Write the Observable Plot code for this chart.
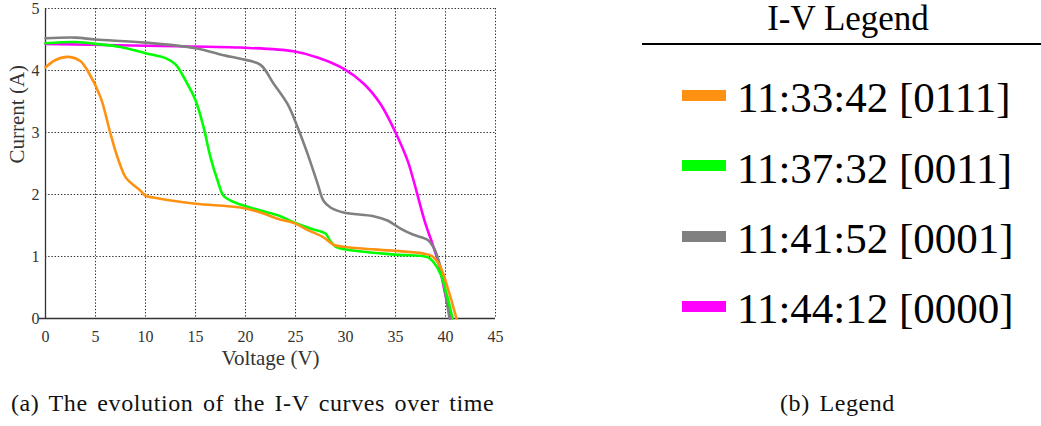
<!DOCTYPE html>
<html>
<head>
<meta charset="utf-8">
<script src="https://cdn.jsdelivr.net/npm/d3@7"></script>
<script src="https://cdn.jsdelivr.net/npm/@observablehq/plot@0.6"></script>
<style>
  html, body { margin: 0; padding: 0; background: #fff; }
  body { width: 1041px; height: 426px; position: relative; overflow: hidden; font-family: "Liberation Serif", serif; color: #000; }
  #chart { position: absolute; left: 0; top: 0; }
  .cap { position: absolute; font-family: "Liberation Serif", serif; font-size: 24px; white-space: nowrap; color: #111; letter-spacing: 0.6px; word-spacing: 3px; }
  #legtitle { position: absolute; left: 648px; width: 400px; top: 2px; text-align: center; font-family: "Liberation Serif", serif; font-size: 35px; line-height: 34px; }
  #legline { position: absolute; left: 642px; width: 399px; top: 43px; height: 2px; background: #000; }
  .row { position: absolute; left: 682px; height: 70px; display: flex; align-items: center; }
  .sw { width: 44px; height: 11px; margin-right: 11px; margin-bottom: 6px; }
  .lab { font-family: "Liberation Serif", serif; font-size: 43px; line-height: 1.15; }
</style>
</head>
<body>
<div id="chart"></div>
<div id="legend"></div>
<div class="cap" id="capa" style="left:11px; top:390px;">(a) The evolution of the I-V curves over time</div>
<div class="cap" id="capb" style="left:780px; top:390px;">(b) Legend</div>
<script>
// ---- data ----
const seriesNames = ["11:33:42 [0111]", "11:37:32 [0011]", "11:41:52 [0001]", "11:44:12 [0000]"];
const seriesColors = ["#ff9112", "#00ff00", "#808080", "#ff00ff"];
const xTicks = [0, 5, 10, 15, 20, 25, 30, 35, 40, 45];
const yTicks = [0, 1, 2, 3, 4, 5];

const voltsA = [0, 1, 2.3, 3.5, 4.2, 5.5, 6.5, 7.2, 8, 8.6, 9.5, 10, 10.8, 12.2, 15, 19.5, 21.5, 23.2, 25, 26.2, 27.8, 28.8, 30.2, 35, 37.7, 38.7, 39.5, 40.3, 41.1];
const ampsA  = [4.05, 4.17, 4.22, 4.15, 4.0, 3.57, 2.98, 2.6, 2.28, 2.18, 2.06, 1.98, 1.95, 1.91, 1.85, 1.79, 1.71, 1.61, 1.53, 1.43, 1.31, 1.19, 1.15, 1.09, 1.05, 1.0, 0.83, 0.45, 0.0];

const voltsB = [0, 3, 5, 7.5, 10, 12, 13, 14, 15, 15.8, 16.5, 17.2, 17.8, 18.8, 19.5, 21.5, 23.3, 25, 26.5, 28, 28.4, 29, 30.2, 35, 38.2, 38.8, 39.5, 40.2, 40.7];
const ampsB  = [4.44, 4.46, 4.43, 4.38, 4.28, 4.2, 4.1, 3.84, 3.52, 3.09, 2.6, 2.23, 1.98, 1.88, 1.84, 1.74, 1.66, 1.54, 1.45, 1.37, 1.27, 1.16, 1.11, 1.03, 0.99, 0.91, 0.72, 0.34, 0.0];

const voltsC = [0, 3, 5, 10, 15, 18, 19.5, 21.5, 22.8, 24.2, 25.2, 26.2, 27.2, 27.8, 28.5, 29.8, 32.8, 34.2, 35.5, 36.8, 38.2, 38.8, 39.5, 40, 40.4];
const ampsC  = [4.52, 4.53, 4.5, 4.45, 4.36, 4.24, 4.19, 4.09, 3.79, 3.46, 3.09, 2.66, 2.18, 1.9, 1.79, 1.71, 1.65, 1.58, 1.45, 1.35, 1.27, 1.15, 0.83, 0.4, 0.0];

const voltsD = [0, 10, 19.5, 24.8, 27.2, 29.8, 31.8, 33.5, 35, 36.2, 36.8, 37.9, 38.7, 39.3, 39.9, 40.5];
const ampsD  = [4.43, 4.4, 4.37, 4.31, 4.21, 4.03, 3.79, 3.46, 3.0, 2.55, 2.23, 1.58, 1.2, 0.9, 0.45, 0.0];

const seriesVolts = [voltsA, voltsB, voltsC, voltsD];
const seriesAmps = [ampsA, ampsB, ampsC, ampsD];

// build table (draw last series first so that the first is on top)
const rows = [];
for (let s = seriesNames.length - 1; s >= 0; s--) {
  seriesVolts[s].forEach((v, k) => rows.push({series: seriesNames[s], v, i: seriesAmps[s][k]}));
}

const serif = "Liberation Serif";
const gridStyle = {stroke: "#333", strokeWidth: 1, strokeDasharray: "1.4,1.8", strokeOpacity: 1};

const chart = Plot.plot({
  width: 510,
  height: 370,
  marginLeft: 45,
  marginRight: 15,
  marginTop: 8,
  marginBottom: 52,
  style: {fontFamily: serif, fontSize: "16px", color: "#333", background: "#fff", overflow: "visible"},
  x: {domain: [0, 45]},
  y: {domain: [0, 5]},
  color: {domain: seriesNames, range: seriesColors},
  marks: [
    Plot.ruleX(xTicks.filter(d => d > 0), gridStyle),
    Plot.ruleY(yTicks.filter(d => d > 0), gridStyle),
    Plot.ruleX([0], {stroke: "#333", strokeWidth: 1.3}),
    Plot.ruleY([0], {stroke: "#333", strokeWidth: 1.3, x1: -0.6, x2: 45}),
    Plot.axisX({ticks: xTicks, tickFormat: d => String(d), tickSize: 0, tickPadding: 12, label: null, fill: "#333", fontFamily: serif, fontSize: 16}),
    Plot.axisY({ticks: yTicks, tickFormat: d => String(d), tickSize: 0, tickPadding: 6, label: null, fill: "#333", fontFamily: serif, fontSize: 16}),
    Plot.line(rows, {x: "v", y: "i", z: "series", stroke: "series", strokeWidth: 2.6, curve: "catmull-rom"}),
    Plot.text(["Voltage (V)"], {text: d => d, frameAnchor: "bottom", dy: 46, fontSize: 21, fill: "#333", fontFamily: serif}),
    Plot.text(["Current (A)"], {text: d => d, frameAnchor: "left", dx: -28, rotate: -90, fontSize: 21, fill: "#333", fontFamily: serif})
  ]
});
document.getElementById("chart").appendChild(chart);

// legend (HTML, built from the same names and colors)
const leg = document.getElementById("legend");
const title = document.createElement("div");
title.id = "legtitle"; title.textContent = "I-V Legend";
leg.appendChild(title);
const line = document.createElement("div");
line.id = "legline";
leg.appendChild(line);
const rowCenters = [98, 168.5, 239, 309];
seriesNames.forEach((name, k) => {
  const r = document.createElement("div");
  r.className = "row";
  r.style.top = (rowCenters[k] - 35) + "px";
  const sw = document.createElement("div");
  sw.className = "sw"; sw.style.background = seriesColors[k];
  const lab = document.createElement("div");
  lab.className = "lab"; lab.textContent = name;
  r.appendChild(sw); r.appendChild(lab);
  leg.appendChild(r);
});
</script>
</body>
</html>
